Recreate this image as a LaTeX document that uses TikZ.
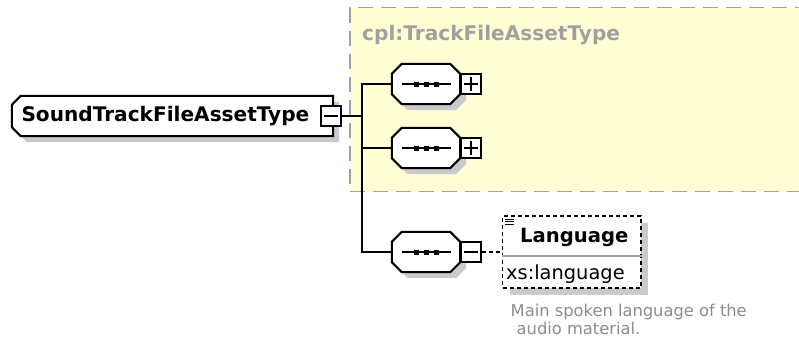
\documentclass[tikz,border=0pt]{standalone}
\usepackage{fontspec}
\setmainfont{DejaVu Sans}
\usetikzlibrary{backgrounds}
\usetikzlibrary{positioning}
\definecolor{groupfill}{HTML}{FFFFD6}
\definecolor{groupline}{HTML}{A0A0A0}
\definecolor{shadowgray}{HTML}{CACACE}
\definecolor{notegray}{HTML}{8C8C8C}
\newcommand{\octpath}[2]{([xshift=#2]#1.north west) -- ([xshift=-#2]#1.north east) -- ([yshift=-#2]#1.north east)
    -- ([yshift=#2]#1.south east) -- ([xshift=-#2]#1.south east) -- ([xshift=#2]#1.south west)
    -- ([yshift=#2]#1.south west) -- ([yshift=-#2]#1.north west) -- cycle}
\newcommand{\typepath}[2]{([xshift=#2]#1.north west) -- (#1.north east) -- (#1.south east)
    -- ([xshift=#2]#1.south west) -- ([yshift=#2]#1.south west) -- ([yshift=-#2]#1.north west) -- cycle}

\begin{document}
\begin{tikzpicture}[x=1pt,y=-1pt,
        boxshadow/.style={preaction={fill=shadowgray,transform canvas={shift={(6pt,-6pt)}}}},
        outline/.style={draw,line width=2pt,fill=white,boxshadow},
        typenode/.style={inner ysep=0pt,inner xsep=9.5pt,minimum height=40pt,text width=302pt,align=left,
            font=\bfseries\fontsize{20.1}{24}\selectfont},
        seqnode/.style={inner sep=0pt,minimum width=68pt,minimum height=40pt},
        expander/.style={draw,line width=1.8pt,fill=white,inner sep=0pt,minimum size=20pt},
        minusbox/.style={expander,path picture={
                \draw[line width=2pt] ([xshift=3pt]path picture bounding box.west) -- ([xshift=-3pt]path picture bounding box.east);
            }},
        plusbox/.style={expander,path picture={
                \draw[line width=2pt] ([xshift=3pt]path picture bounding box.west) -- ([xshift=-3pt]path picture bounding box.east);
                \draw[line width=2pt] ([yshift=-3pt]path picture bounding box.north) -- ([yshift=3pt]path picture bounding box.south);
            }},
        groupbox/.style={draw=groupline,fill=groupfill,line width=1.6pt,dash pattern=on 15pt off 8pt,inner sep=0pt},
        elembox/.style={draw,line width=1.8pt,dash pattern=on 4pt off 3pt,fill=white,inner sep=0pt,
            preaction={fill=shadowgray,transform canvas={shift={(7pt,-7pt)}}},
            path picture={
                \foreach \h in {3,5.5,8}
                    \draw[solid,black,line width=1pt] ([xshift=2.5pt,yshift=-\h pt]path picture bounding box.north west) -- ++(9pt,0pt);
            }},
        wire/.style={line width=2pt}]
        \useasboundingbox (0,0) rectangle (799,343);
        \node[typenode] (main) at (172.5,116) {SoundTrackFileAssetType};
        \node[seqnode] (seqA) at (426,84) {};
        \node[seqnode] (seqB) at (426,148) {};
        \node[seqnode] (seqC) at (426,252) {};
        \begin{pgfonlayer}{background}
            \node[groupbox,minimum width=460pt,minimum height=184pt] (group) at (580,99.5) {};
            \draw[outline] \typepath{main}{9pt};
            \foreach \s in {seqA,seqB,seqC} {
                \draw[outline] \octpath{\s}{10pt};
            }
        \end{pgfonlayer}
        \foreach \s in {seqA,seqB,seqC} {
            \draw[line width=2pt] ([xshift=-24.5pt]\s.center) -- ([xshift=24.5pt]\s.center);
            \foreach \d in {-10,0,10}
                \fill ([xshift=\d pt]\s.center) ++(-2.5pt,-2.5pt) rectangle ++(5pt,5pt);
        }
        \node[anchor=west,inner sep=0pt,text=groupline,font=\bfseries\fontsize{20.1}{24}\selectfont] (groupTitle) at (362,35) {cpl:TrackFileAssetType};
        \node[minusbox] (mainToggle) at (331,116) {};
        \node[plusbox] (seqAToggle) at (471,84) {};
        \node[plusbox] (seqBToggle) at (471,148) {};
        \node[minusbox] (seqCToggle) at (471,252) {};
        \node[elembox,minimum width=138.5pt,minimum height=71.5pt] (lang) at (571.75,252) {};
        \draw[groupline,line width=1.4pt] ([yshift=-40.7pt]lang.north west) -- ([yshift=-40.7pt]lang.north east);
        \node[anchor=base west,inner sep=0pt,font=\bfseries\fontsize{19.6}{24}\selectfont] (langName) at (520,242) {Language};
        \node[anchor=base west,inner sep=0pt,font=\fontsize{19.4}{24}\selectfont] (langType) at (506,279.5) {xs:language};
        \node[anchor=north west,inner sep=0pt,align=left,text=notegray,font=\fontsize{16.3}{18.4}\selectfont] (langNote) at (510.5,304) {Main spoken language of the\\\hspace*{6pt}audio material.};
        \coordinate (fork) at (362,116);
        \draw[wire] (mainToggle.east) -- (fork);
        \draw[wire] (seqA.west) -| (fork) |- (seqC.west);
        \draw[wire] (seqB.west) -- (seqB.west -| fork);
        \draw[wire,dash pattern=on 4pt off 3pt] (seqCToggle.east) -- (lang.west);
\end{tikzpicture}
\end{document}
